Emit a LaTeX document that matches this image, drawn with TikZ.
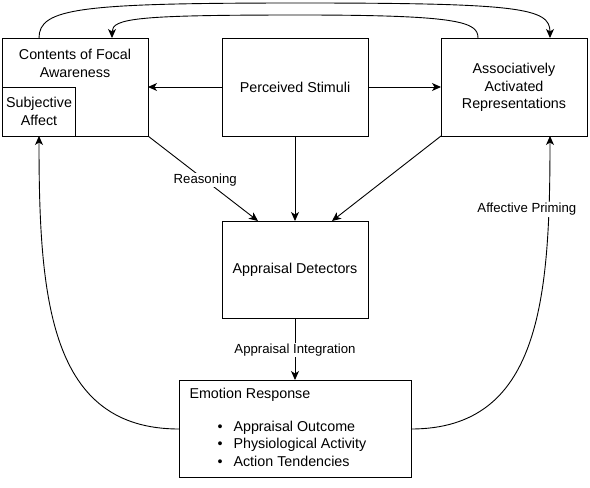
\documentclass[tikz,border=0pt]{standalone}
\usepackage{fontspec}
\setmainfont{Liberation Sans}
\usetikzlibrary{arrows.meta}
\begin{document}
\begin{tikzpicture}[x=1pt,y=-1pt,
  box/.style={draw,line width=0.9pt,inner sep=0pt},
  lbl/.style={font=\fontsize{14.3}{17.5}\selectfont,align=center},
  elbl/.style={font=\fontsize{13.2}{15}\selectfont,fill=white,inner sep=1pt},
  arr/.style={line width=0.9pt,-{Stealth[length=9pt,width=8pt,inset=2.5pt]}},
  ln/.style={line width=0.9pt}]
\useasboundingbox (0,0) rectangle (590,488);
% boxes
\draw[box] (2,38) rectangle (148,136);
\coordinate (faR) at (148,87);
\coordinate (faC) at (148,136);
\node[lbl] (fatext) at (75,63.5) {Contents of Focal\\Awareness};
\draw[box] (2,87) rectangle (75,136);
\node[lbl] (sa) at (39,111.5) {Subjective\\Affect};
\coordinate (saB) at (39,136);
\coordinate (faT1) at (39,38);
\coordinate (faT2) at (112,38);

\draw[box] (222,38) rectangle (368,136);
\node[lbl] (ps) at (295,87) {Perceived Stimuli};
\coordinate (psL) at (222,87);
\coordinate (psR) at (368,87);
\coordinate (psB) at (295,136);

\draw[box] (441,38) rectangle (587,136);
\node[lbl] (aar) at (514,87.5) {Associatively\\Activated\\Representations};
\coordinate (aarL) at (441,87);
\coordinate (aarC) at (441,136);
\coordinate (aarB) at (550,136);
\coordinate (aarT1) at (550,38);
\coordinate (aarT2) at (478,38);

\draw[box] (222,221) rectangle (368,318);
\node[lbl] (ad) at (295,270) {Appraisal Detectors};
\coordinate (adT1) at (258,221);
\coordinate (adT2) at (295,221);
\coordinate (adT3) at (332,221);
\coordinate (adB) at (295,318);

\draw[box] (179,380) rectangle (411,477);
\node[lbl,anchor=west] (er) at (186,395) {Emotion Response};
\node[lbl,anchor=west,align=left] (erl) at (214,443.5) {%
\textbullet\hspace{11pt}Appraisal Outcome\\
\textbullet\hspace{11pt}Physiological Activity\\
\textbullet\hspace{11pt}Action Tendencies};
\coordinate (erT) at (295,380);
\coordinate (erL) at (179,429);
\coordinate (erR) at (411,429);

% connectors
\draw[arr] (psL) -- (faR);
\draw[arr] (psR) -- (aarL);
\draw[arr] (psB) -- (adT2);
\draw[arr] (faC) -- node[elbl,pos=0.52] (reas) {Reasoning} (adT1);
\draw[arr] (aarC) -- (adT3);
\draw[arr] (adB) -- node[elbl,pos=0.52] (ai) {Appraisal Integration} (erT);
\draw[arr] (erL) .. controls (50,429) and (39,300) .. (saB);
\draw[arr] (erR) .. controls (540,429) and (550,300) .. node[elbl,pos=0.845,xshift=-22pt] (ap) {Affective Priming} (aarB);
\draw[arr] (faT1) .. controls (39,8) and (80,3) .. (300,3) .. controls (520,3) and (550,8) .. (aarT1);
\draw[arr] (aarT2) .. controls (478,22) and (460,15) .. (300,15) .. controls (140,15) and (112,18) .. (faT2);
\end{tikzpicture}
\end{document}
